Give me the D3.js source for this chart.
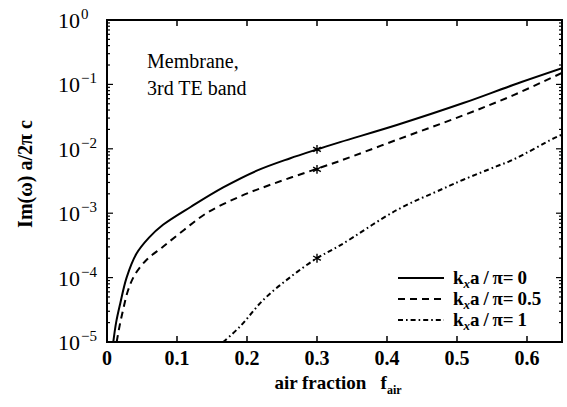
<!DOCTYPE html>
<html>
<head>
<meta charset="utf-8">
<script src="https://cdn.jsdelivr.net/npm/d3@7"></script>
</head>
<body style="margin:0;background:#fff">
<svg id="chart" width="567" height="407"></svg>
<script>
// ---- data ----
const fSolid  = [0.009, 0.013, 0.019, 0.028, 0.042, 0.06, 0.08, 0.12, 0.166, 0.214, 0.261, 0.30, 0.333, 0.414, 0.509, 0.58, 0.65];
const vSolid  = [1.0e-5, 2.0e-5, 4.0e-5, 1.0e-4, 2.34e-4, 4.17e-4, 6.6e-4, 1.26e-3, 2.51e-3, 4.57e-3, 7.08e-3, 9.77e-3, 1.27e-2, 2.34e-2, 5.13e-2, 9.77e-2, 0.178];
const fDash   = [0.0138, 0.018, 0.023, 0.03, 0.04, 0.057, 0.08, 0.11, 0.142, 0.19, 0.238, 0.30, 0.333, 0.414, 0.509, 0.58, 0.65];
const vDash   = [1.0e-5, 1.78e-5, 3.16e-5, 6.31e-5, 1.12e-4, 1.91e-4, 3.02e-4, 5.5e-4, 1.0e-3, 1.82e-3, 2.88e-3, 4.9e-3, 6.5e-3, 1.38e-2, 3.31e-2, 6.76e-2, 0.151];
const fDashDot = [0.166, 0.19, 0.223, 0.261, 0.30, 0.333, 0.414, 0.48, 0.509, 0.557, 0.58, 0.638, 0.65];
const vDashDot = [1.0e-5, 1.74e-5, 4.47e-5, 1.0e-4, 2.0e-4, 3.16e-4, 1.12e-3, 2.4e-3, 3.31e-3, 5.37e-3, 6.76e-3, 1.45e-2, 1.66e-2];
const starF = [0.30, 0.30, 0.30];
const starV = [9.8e-3, 4.8e-3, 2.0e-4];
const seriesLabels = ["0", "0.5", "1"];
const xTicks = [0, 0.1, 0.2, 0.3, 0.4, 0.5, 0.6];
const xTickLabels = ["0", "0.1", "0.2", "0.3", "0.4", "0.5", "0.6"];
const yExponents = [0, -1, -2, -3, -4, -5];

// ---- layout ----
const FONT = "Liberation Serif";
const svg = d3.select("#chart");
const L = 107, T = 20, R = 562, B = 342;
const x = d3.scaleLinear().domain([0, 0.65]).range([L, R]);
const y = d3.scaleLog().domain([1e-5, 1]).range([B, T]);

svg.append("clipPath").attr("id", "clip")
  .append("rect").attr("x", L).attr("y", T).attr("width", R - L).attr("height", B - T);

const series = [
  { f: fSolid, v: vSolid, dash: null },
  { f: fDash, v: vDash, dash: "7,5" },
  { f: fDashDot, v: vDashDot, dash: "5,3,1.6,3" }
];

const line = d3.line().x(d => x(d[0])).y(d => y(d[1])).curve(d3.curveCatmullRom.alpha(0.5));

const plot = svg.append("g").attr("clip-path", "url(#clip)");
series.forEach(s => {
  plot.append("path")
    .datum(s.f.map((f, i) => [f, s.v[i]]))
    .attr("d", line)
    .attr("fill", "none")
    .attr("stroke", "#000")
    .attr("stroke-width", 2)
    .attr("stroke-dasharray", s.dash);
});

// stars
const star = d3.symbol().type(d3.symbolAsterisk).size(55);
starF.forEach((f, i) => {
  svg.append("path")
    .attr("d", star())
    .attr("transform", `translate(${x(f)},${y(starV[i])})`)
    .attr("fill", "none").attr("stroke", "#000").attr("stroke-width", 1.4);
});

// ---- axes (ticks inward on all sides) ----
const ax = svg.append("g").attr("stroke", "#000");
xTicks.forEach(t => {
  ax.append("line").attr("x1", x(t)).attr("x2", x(t)).attr("y1", B).attr("y2", B - 6).attr("stroke-width", 1.5);
  ax.append("line").attr("x1", x(t)).attr("x2", x(t)).attr("y1", T).attr("y2", T + 6).attr("stroke-width", 1.5);
});
const yMinor = y.ticks();
yMinor.forEach(t => {
  const major = Math.abs(Math.log10(t) - Math.round(Math.log10(t))) < 1e-9;
  const len = major ? 6 : 3;
  ax.append("line").attr("x1", L).attr("x2", L + len).attr("y1", y(t)).attr("y2", y(t)).attr("stroke-width", 1.2);
  ax.append("line").attr("x1", R).attr("x2", R - len).attr("y1", y(t)).attr("y2", y(t)).attr("stroke-width", 1.2);
});
svg.append("rect").attr("x", L).attr("y", T).attr("width", R - L).attr("height", B - T)
  .attr("fill", "none").attr("stroke", "#000").attr("stroke-width", 2);

// x tick labels
svg.append("g").selectAll("text").data(xTicks).join("text")
  .attr("x", d => x(d)).attr("y", 365)
  .attr("text-anchor", "middle").attr("font-family", FONT)
  .attr("font-size", 20).attr("font-weight", "bold")
  .text((d, i) => xTickLabels[i]);

// y tick labels: 10^n
const yl = svg.append("g");
yExponents.forEach(e => {
  const yy = y(Math.pow(10, e));
  yl.append("text").attr("x", 80).attr("y", yy + 8).attr("text-anchor", "end")
    .attr("font-family", FONT).attr("font-size", 22).text("10");
  yl.append("text").attr("x", 81).attr("y", yy - 1).attr("text-anchor", "start")
    .attr("font-family", FONT).attr("font-size", 15).text(e === 0 ? "0" : "\u2212" + Math.abs(e));
});

// axis titles
const xt = svg.append("text").attr("x", 338).attr("y", 389).attr("text-anchor", "middle")
  .attr("font-family", FONT).attr("font-size", 19).attr("font-weight", "bold");
xt.append("tspan").text("air fraction\u00a0\u00a0\u00a0f");
xt.append("tspan").attr("font-size", 12).attr("dy", 5).text("air");

svg.append("text").attr("transform", "translate(32,174) rotate(-90)")
  .attr("text-anchor", "middle").attr("font-family", FONT).attr("font-size", 20).attr("font-weight", "bold")
  .text("Im(\u03c9) a/2\u03c0 c");

// annotation
svg.append("text").attr("x", 147).attr("y", 68).attr("font-family", FONT).attr("font-size", 20).text("Membrane,");
svg.append("text").attr("x", 147).attr("y", 95).attr("font-family", FONT).attr("font-size", 20).text("3rd TE band");

// legend
const leg = svg.append("g");
series.forEach((s, i) => {
  const ly = 278 + i * 21;
  leg.append("line").attr("x1", 398).attr("x2", 444).attr("y1", ly).attr("y2", ly)
    .attr("stroke", "#000").attr("stroke-width", 2).attr("stroke-dasharray", s.dash);
  const t = leg.append("text").attr("x", 453).attr("y", ly + 6)
    .attr("font-family", FONT).attr("font-size", 19).attr("font-weight", "bold");
  t.append("tspan").text("k");
  t.append("tspan").attr("font-size", 13).attr("font-style", "italic").attr("dy", 4).text("x");
  t.append("tspan").attr("dy", -4).text("a\u2009/\u2009\u03c0=\u2009" + seriesLabels[i]);
});
</script>
</body>
</html>
